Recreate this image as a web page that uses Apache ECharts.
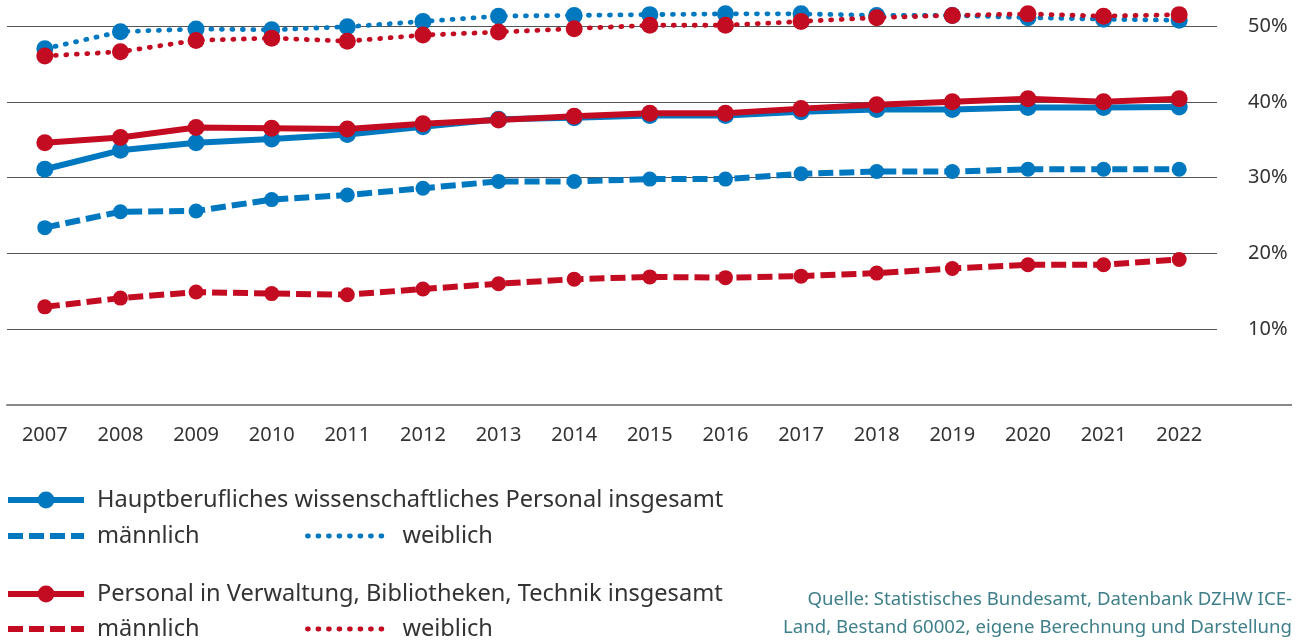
<!DOCTYPE html>
<html>
<head>
<meta charset="utf-8">
<script src="https://cdn.jsdelivr.net/npm/echarts@6/dist/echarts.min.js"></script>
<style>
    html, body { margin: 0; padding: 0; background: #fff; }
    #chart { width: 1306px; height: 642px; }
</style>
</head>
<body>
<div id="chart"></div>
<script>
var years = ['2007', '2008', '2009', '2010', '2011', '2012', '2013', '2014', '2015', '2016', '2017', '2018', '2019', '2020', '2021', '2022'];
var yTicks = [0, 10, 20, 30, 40, 50];

// Hauptberufliches wissenschaftliches Personal (Anteil in %)
var wissGesamt = [31.1, 33.6, 34.6, 35.1, 35.7, 36.7, 37.7, 37.9, 38.2, 38.2, 38.7, 39.0, 39.0, 39.25, 39.25, 39.3];
var wissMaennlich = [23.4, 25.5, 25.6, 27.1, 27.7, 28.6, 29.5, 29.5, 29.8, 29.8, 30.5, 30.8, 30.8, 31.1, 31.1, 31.1];
var wissWeiblich = [47.0, 49.25, 49.6, 49.5, 49.9, 50.6, 51.3, 51.4, 51.5, 51.6, 51.6, 51.4, 51.4, 51.1, 50.9, 50.75];

// Personal in Verwaltung, Bibliotheken, Technik (Anteil in %)
var vbtGesamt = [34.6, 35.3, 36.6, 36.5, 36.4, 37.1, 37.6, 38.1, 38.5, 38.5, 39.1, 39.6, 40.0, 40.4, 40.0, 40.4];
var vbtMaennlich = [12.95, 14.1, 14.9, 14.7, 14.55, 15.3, 16.0, 16.6, 16.9, 16.8, 17.0, 17.4, 18.0, 18.5, 18.5, 19.2];
var vbtWeiblich = [46.05, 46.6, 48.1, 48.4, 48.0, 48.8, 49.2, 49.65, 50.1, 50.1, 50.6, 51.1, 51.4, 51.6, 51.3, 51.5];

var blue = '#0078c0';
var red = '#c30c22';
var font = 'Noto Sans';

var nameWissGes = 'Hauptberufliches wissenschaftliches Personal insgesamt';
var nameVbtGes = 'Personal in Verwaltung, Bibliotheken, Technik insgesamt';

var lineKinds = {
    solid: { type: 'solid', width: 6, cap: 'butt' },
    dashed: { type: [15, 6], width: 6, cap: 'butt' },
    dotted: { type: [1, 9.5], width: 4.8, cap: 'round' }
};

function lineSeries(id, name, data, color, kind) {
    var k = lineKinds[kind];
    return {
        id: id,
        name: name,
        type: 'line',
        data: data,
        symbol: 'circle',
        symbolSize: kind === 'dashed' ? 15 : 17,
        itemStyle: { color: color },
        lineStyle: { color: color, width: k.width, type: k.type, cap: k.cap, join: 'round' },
        clip: false,
        animation: false
    };
}

function legendRow(name, label, left, top, width, kind) {
    var k = lineKinds[kind];
    var item = { name: name };
    if (kind !== 'solid') {
        item.itemStyle = { opacity: 0 };
    }
    return {
        data: [item],
        left: left,
        top: top,
        orient: 'horizontal',
        padding: 0,
        itemWidth: width,
        itemHeight: 21,
        selectedMode: false,
        formatter: label,
        lineStyle: { width: k.width, type: k.type, cap: k.cap },
        textStyle: { fontFamily: font, fontSize: 23.6, color: '#333', padding: [0, 0, 0, 8] }
    };
}

var chart = echarts.init(document.getElementById('chart'));

var option = {
    backgroundColor: '#fff',
    textStyle: { fontFamily: font },
    grid: { left: 7, top: 26, width: 1210, height: 379 },
    xAxis: {
        type: 'category',
        data: years,
        boundaryGap: true,
        axisTick: { show: false },
        axisLine: { show: true, lineStyle: { color: '#888', width: 2 } },
        axisLabel: { margin: 20, fontSize: 20, color: '#333', fontFamily: font }
    },
    yAxis: {
        type: 'value',
        position: 'right',
        min: yTicks[0],
        max: yTicks[yTicks.length - 1],
        interval: 10,
        axisLine: { show: false },
        axisTick: { show: false },
        splitLine: { lineStyle: { color: '#555', width: 1.2 } },
        axisLabel: {
            margin: 31,
            fontSize: 20,
            color: '#333',
            fontFamily: font,
            formatter: function (v) { return v === 0 ? '' : v + '%'; }
        }
    },
    legend: [
        legendRow(nameWissGes, '{name}', 5, 488, 76, 'solid'),
        legendRow('wiss. männlich', 'männlich', 5, 524, 76, 'dashed'),
        legendRow('wiss. weiblich', 'weiblich', 305, 524, 82, 'dotted'),
        legendRow(nameVbtGes, '{name}', 5, 582, 76, 'solid'),
        legendRow('vbt männlich', 'männlich', 5, 617, 76, 'dashed'),
        legendRow('vbt weiblich', 'weiblich', 305, 617, 82, 'dotted')
    ],
    graphic: [
        {
            type: 'line',
            shape: { x1: 1217, y1: 405, x2: 1292, y2: 405 },
            style: { stroke: '#888', lineWidth: 2 },
            silent: true
        },
        {
            type: 'text',
            right: 14,
            top: 590,
            style: {
                text: 'Quelle: Statistisches Bundesamt, Datenbank DZHW ICE-',
                fill: '#3f7f8a',
                fontFamily: font,
                fontSize: 18.6
            },
            silent: true
        },
        {
            type: 'text',
            right: 14,
            top: 618,
            style: {
                text: 'Land, Bestand 60002, eigene Berechnung und Darstellung',
                fill: '#3f7f8a',
                fontFamily: font,
                fontSize: 18.6
            },
            silent: true
        }
    ],
    series: [
        lineSeries('wm', 'wiss. männlich', wissMaennlich, blue, 'dashed'),
        lineSeries('ww', 'wiss. weiblich', wissWeiblich, blue, 'dotted'),
        lineSeries('wg', nameWissGes, wissGesamt, blue, 'solid'),
        lineSeries('vm', 'vbt männlich', vbtMaennlich, red, 'dashed'),
        lineSeries('vw', 'vbt weiblich', vbtWeiblich, red, 'dotted'),
        lineSeries('vg', nameVbtGes, vbtGesamt, red, 'solid')
    ]
};

chart.setOption(option);
</script>
</body>
</html>
